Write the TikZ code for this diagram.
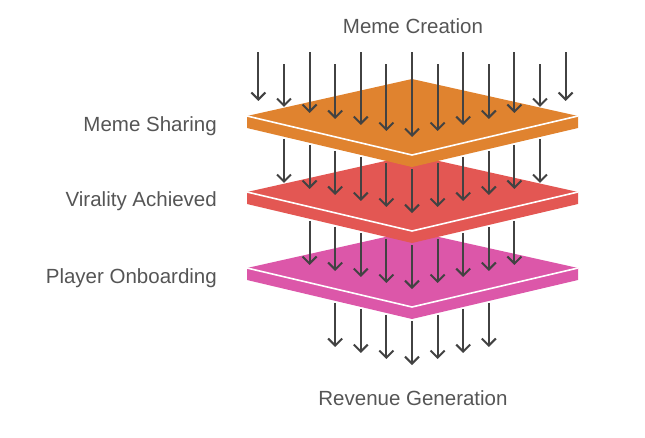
\documentclass[tikz,border=0pt]{standalone}
\usepackage{fontspec}
\setmainfont{Liberation Sans}
\usetikzlibrary{arrows.meta, positioning}
\definecolor{SlabOrange}{RGB}{224, 131, 47}
\definecolor{SlabRed}{RGB}{227, 87, 83}
\definecolor{SlabPink}{RGB}{220, 87, 169}
\definecolor{FlowGray}{RGB}{66, 66, 66}
\definecolor{LabelGray}{RGB}{85, 85, 85}

\begin{document}
\begin{tikzpicture}[x=1pt, y=-1pt,
        slab/.style={line width=0pt},
        edge/.style={draw=white, line width=1.6pt},
        flow/.style={-{Straight Barb[length=7pt, width=14pt, line width=2pt]},
                     line width=2pt, FlowGray},
        label/.style={font=\fontsize{20.5}{24}\selectfont, text=LabelGray, inner sep=0pt}]

        \useasboundingbox (0, 0) rectangle (645, 437);

        % Slabs, drawn from the bottom one up
        \foreach \lev/\col in {2/SlabPink, 1/SlabRed, 0/SlabOrange}{
            \pgfmathsetmacro{\d}{76*\lev}
            \fill[slab, \col] (412, 79+\d) -- (578, 116+\d) -- (578, 128+\d) -- (412, 167+\d)
                -- (247, 128+\d) -- (247, 116+\d) -- cycle;
            \draw[edge] (247, 116+\d) -- (412, 155+\d) -- (578, 116+\d);
        }

        % Arrows: one row above each slab and one below the last
        \foreach \k in {0, 1, 2, 3}{
            \pgfmathtruncatemacro{\n}{6-\k}
            \foreach \i in {-\n, ..., \n}{
                \pgfmathsetmacro{\dx}{25.6*\i}
                \pgfmathsetmacro{\yend}{137+76*\k-0.235*abs(\dx)}
                \pgfmathsetmacro{\ystart}{\k==0 ? (isodd(abs(\i)) ? 64 : 52) : 169+76*(\k-1)-0.235*abs(\dx)}
                \coordinate (src\k\i) at (412+\dx, \ystart);
                \coordinate (dst\k\i) at (412+\dx, \yend);
                \draw[flow] (src\k\i) -- (dst\k\i);
            }
        }

        % Stage labels
        \node[label, anchor=base] (creation) at (413, 33) {Meme Creation};
        \node[label, anchor=base east] (sharing) at (217, 131) {Meme Sharing};
        \node[label, anchor=base east] (virality) at (217, 206) {Virality Achieved};
        \node[label, anchor=base east] (onboarding) at (217, 283) {Player Onboarding};
        \node[label, anchor=base] (revenue) at (413, 405) {Revenue Generation};
    \end{tikzpicture}
\end{document}
